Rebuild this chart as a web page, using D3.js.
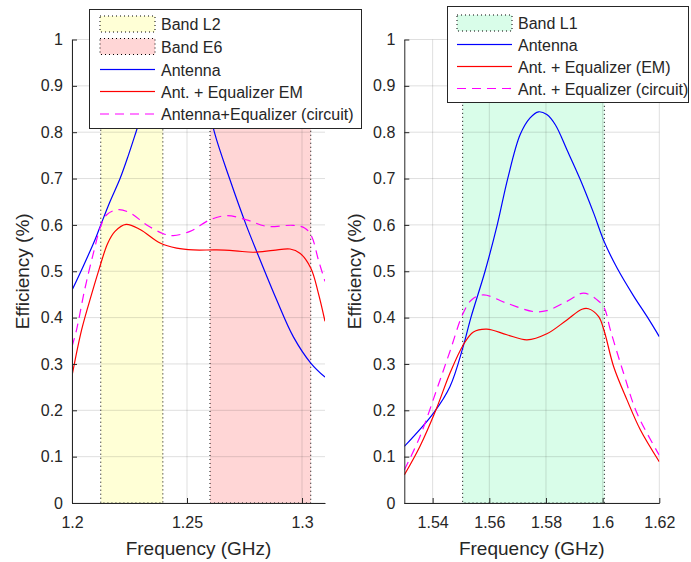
<!DOCTYPE html>
<html>
<head>
<meta charset="utf-8">
<script src="https://cdn.jsdelivr.net/npm/d3@7"></script>
<style>
  html, body { margin: 0; padding: 0; background: #fff; }
  svg { display: block; }
  text { font-family: "Liberation Sans", Arial, Helvetica, sans-serif; fill: #262626; }
</style>
</head>
<body>
<svg id="chart" width="691" height="562"></svg>
<script>
// ---------- DATA ----------
const yTicks = [0, 0.1, 0.2, 0.3, 0.4, 0.5, 0.6, 0.7, 0.8, 0.9, 1];
const yTickLabels = ["0", "0.1", "0.2", "0.3", "0.4", "0.5", "0.6", "0.7", "0.8", "0.9", "1"];

// Left panel (L2 / E6)
const leftXDomain = [1.2, 1.31];
const leftXTicks = [1.2, 1.25, 1.3];
const leftXTickLabels = ["1.2", "1.25", "1.3"];
const bandL2 = [1.2125, 1.2395];
const bandE6 = [1.26, 1.3038];

const leftAntFreq = [1.200, 1.205, 1.210, 1.2125, 1.2165, 1.2209, 1.2245, 1.2278, 1.231, 1.235, 1.240, 1.245, 1.250, 1.254, 1.258, 1.2619, 1.2685, 1.2757, 1.2806, 1.289, 1.2962, 1.3038, 1.310];
const leftAntEff  = [0.459, 0.512, 0.568, 0.600, 0.650, 0.700, 0.750, 0.800, 0.850, 0.910, 0.970, 1.010, 1.020, 0.980, 0.890, 0.800, 0.700, 0.600, 0.539, 0.438, 0.359, 0.302, 0.2715];

const leftEmFreq = [1.200, 1.2042, 1.2085, 1.2117, 1.2155, 1.2187, 1.2235, 1.2296, 1.2383, 1.2455, 1.2527, 1.2629, 1.2710, 1.2788, 1.2875, 1.2948, 1.2991, 1.3038, 1.3071, 1.310];
const leftEmEff  = [0.274, 0.374, 0.450, 0.503, 0.560, 0.586, 0.601, 0.590, 0.561, 0.550, 0.546, 0.546, 0.544, 0.541, 0.545, 0.548, 0.539, 0.507, 0.453, 0.392];

const leftCircFreq = [1.200, 1.202, 1.2055, 1.2093, 1.2125, 1.2151, 1.2201, 1.2252, 1.2325, 1.2397, 1.244, 1.2513, 1.260, 1.2673, 1.2759, 1.2846, 1.2962, 1.3013, 1.3042, 1.3071, 1.310];
const leftCircEff  = [0.337, 0.374, 0.460, 0.539, 0.597, 0.622, 0.633, 0.626, 0.600, 0.581, 0.577, 0.586, 0.611, 0.620, 0.611, 0.597, 0.599, 0.593, 0.575, 0.525, 0.478];

// Right panel (L1)
const rightXDomain = [1.53, 1.62];
const rightXTicks = [1.54, 1.56, 1.58, 1.60, 1.62];
const rightXTickLabels = ["1.54", "1.56", "1.58", "1.6", "1.62"];
const bandL1 = [1.5506, 1.6006];

const rightAntFreq = [1.530, 1.5403, 1.5461, 1.5508, 1.5535, 1.5585, 1.5628, 1.5665, 1.5709, 1.5744, 1.5774, 1.5803, 1.5833, 1.5874, 1.5921, 1.5968, 1.6006, 1.6051, 1.6109, 1.6157, 1.620];
const rightAntEff  = [0.122, 0.194, 0.251, 0.338, 0.400, 0.500, 0.600, 0.700, 0.795, 0.831, 0.844, 0.838, 0.816, 0.762, 0.698, 0.626, 0.563, 0.507, 0.447, 0.402, 0.359];

const rightEmFreq = [1.530, 1.5355, 1.5414, 1.5461, 1.5508, 1.5544, 1.5591, 1.5662, 1.5733, 1.5803, 1.5874, 1.5927, 1.595, 1.5986, 1.6006, 1.6039, 1.6086, 1.6133, 1.620];
const rightEmEff  = [0.0605, 0.122, 0.2045, 0.280, 0.341, 0.369, 0.375, 0.363, 0.352, 0.365, 0.395, 0.418, 0.419, 0.402, 0.370, 0.294, 0.2225, 0.158, 0.089];

const rightCircFreq = [1.530, 1.5355, 1.5414, 1.5461, 1.5508, 1.5538, 1.5579, 1.5662, 1.5756, 1.5803, 1.5874, 1.5933, 1.598, 1.6006, 1.6027, 1.6074, 1.6121, 1.620];
const rightCircEff  = [0.071, 0.143, 0.244, 0.327, 0.410, 0.4385, 0.449, 0.431, 0.413, 0.415, 0.435, 0.453, 0.4385, 0.4205, 0.374, 0.280, 0.194, 0.103];

const leftLegendLabels = ["Band L2", "Band E6", "Antenna", "Ant. + Equalizer EM", "Antenna+Equalizer (circuit)"];
const rightLegendLabels = ["Band L1", "Antenna", "Ant. + Equalizer (EM)", "Ant. + Equalizer (circuit)"];

// ---------- STYLE ----------
const COL_AXIS = "#262626";
const COL_GRID = "rgba(38,38,38,0.15)";
const COL_BLUE = "#0000ff";
const COL_RED = "#ff0000";
const COL_MAG = "#ff00ff";
const FILL_YEL = "#ffffd6";
const FILL_PINK = "#ffd6d6";
const FILL_GREEN = "#d9fde9";
const DASH = "9,6";

const svg = d3.select("#chart");
const yTop = 39.5, yBot = 503;
const y = d3.scaleLinear().domain([0, 1]).range([yBot, yTop]);

function panel(id, x0, x1, xDomain, xTicks, xTickLabels, bands, series, ylabelX) {
  const x = d3.scaleLinear().domain(xDomain).range([x0, x1]);
  const g = svg.append("g");
  const clipId = "clip-" + id;
  svg.append("defs").append("clipPath").attr("id", clipId)
    .append("rect").attr("x", x0).attr("y", yTop).attr("width", x1 - x0).attr("height", yBot - yTop);

  bands.forEach(b => {
    g.append("rect")
      .attr("x", x(b.range[0])).attr("y", y(1))
      .attr("width", x(b.range[1]) - x(b.range[0])).attr("height", y(0) - y(1))
      .attr("fill", b.fill).attr("stroke", "#000").attr("stroke-width", 1)
      .attr("stroke-dasharray", "1,3");
  });

  g.append("g").selectAll("line").data(xTicks).join("line")
    .attr("x1", d => x(d)).attr("x2", d => x(d)).attr("y1", yTop).attr("y2", yBot)
    .attr("stroke", COL_GRID).attr("stroke-width", 1);
  g.append("g").selectAll("line").data(yTicks).join("line")
    .attr("x1", x0).attr("x2", x1).attr("y1", d => y(d)).attr("y2", d => y(d))
    .attr("stroke", COL_GRID).attr("stroke-width", 1);

  const lines = g.append("g").attr("clip-path", `url(#${clipId})`);
  series.forEach(s => {
    const pts = s.f.map((f, i) => [f, s.v[i]]);
    lines.append("path")
      .attr("d", d3.line().x(d => x(d[0])).y(d => y(d[1])).curve(d3.curveCatmullRom.alpha(0.5))(pts))
      .attr("fill", "none").attr("stroke", s.color).attr("stroke-width", 1.2)
      .attr("stroke-dasharray", s.dash || null);
  });

  const ya = g.append("g").attr("transform", `translate(${x0},0)`)
    .call(d3.axisLeft(y).tickValues(yTicks).tickFormat((d, i) => yTickLabels[i])
      .tickSizeInner(-5).tickSizeOuter(0).tickPadding(9));
  const xa = g.append("g").attr("transform", `translate(0,${yBot})`)
    .call(d3.axisBottom(x).tickValues(xTicks).tickFormat((d, i) => xTickLabels[i])
      .tickSizeInner(-5).tickSizeOuter(0).tickPadding(14));
  [ya, xa].forEach(a => {
    a.select(".domain").attr("stroke", COL_AXIS);
    a.selectAll(".tick line").attr("stroke", COL_AXIS);
    a.selectAll(".tick text").attr("fill", COL_AXIS).style("font-size", "16px")
      .style("font-family", '"Liberation Sans", Arial, sans-serif');
  });

  g.append("text").attr("x", (x0 + x1) / 2).attr("y", 555).attr("text-anchor", "middle")
    .style("font-size", "19px").text("Frequency (GHz)");
  g.append("text").attr("transform", `translate(${ylabelX},${(yTop + yBot) / 2}) rotate(-90)`)
    .attr("text-anchor", "middle").style("font-size", "19px").text("Efficiency (%)");
  return g;
}

function legend(bx, by, bw, bh, rows, symX0, symX1, entries) {
  const g = svg.append("g");
  g.append("rect").attr("x", bx).attr("y", by).attr("width", bw).attr("height", bh)
    .attr("fill", "#fff").attr("stroke", COL_AXIS).attr("stroke-width", 1);
  entries.forEach((e, i) => {
    const cy = rows[i];
    if (e.type === "patch") {
      g.append("rect").attr("x", symX0).attr("y", cy - 8).attr("width", symX1 - symX0).attr("height", 16)
        .attr("fill", e.fill).attr("stroke", "#000").attr("stroke-dasharray", "1,3");
    } else if (!e.dash) {
      g.append("rect").attr("x", symX0).attr("y", cy - 0.6).attr("width", symX1 - symX0).attr("height", 1.2)
        .attr("fill", e.color).attr("stroke", "none");
    } else {
      g.append("path").attr("d", `M${symX0},${cy}H${symX1}`)
        .attr("fill", "none")
        .style("stroke", e.color).style("stroke-width", "1.2px")
        .style("stroke-dasharray", e.dash);
    }
    g.append("text").attr("x", symX1 + 6).attr("y", cy + 6).style("font-size", "16px").text(e.label);
  });
}

panel("L", 72, 325, leftXDomain, leftXTicks, leftXTickLabels,
  [{ range: bandL2, fill: FILL_YEL }, { range: bandE6, fill: FILL_PINK }],
  [{ f: leftAntFreq, v: leftAntEff, color: COL_BLUE },
   { f: leftEmFreq, v: leftEmEff, color: COL_RED },
   { f: leftCircFreq, v: leftCircEff, color: COL_MAG, dash: DASH }], 29);

panel("R", 404.3, 659.3, rightXDomain, rightXTicks, rightXTickLabels,
  [{ range: bandL1, fill: FILL_GREEN }],
  [{ f: rightAntFreq, v: rightAntEff, color: COL_BLUE },
   { f: rightEmFreq, v: rightEmEff, color: COL_RED },
   { f: rightCircFreq, v: rightCircEff, color: COL_MAG, dash: DASH }], 361);

legend(89.5, 9.5, 272, 119, [24, 46.5, 69.5, 91.5, 114], 100, 155, [
  { type: "patch", fill: FILL_YEL, label: leftLegendLabels[0] },
  { type: "patch", fill: FILL_PINK, label: leftLegendLabels[1] },
  { type: "line", color: COL_BLUE, label: leftLegendLabels[2] },
  { type: "line", color: COL_RED, label: leftLegendLabels[3] },
  { type: "line", color: COL_MAG, dash: DASH, label: leftLegendLabels[4] }
]);

legend(447.5, 6.5, 241, 96, [23, 44.5, 66.5, 88.5], 457, 512, [
  { type: "patch", fill: FILL_GREEN, label: rightLegendLabels[0] },
  { type: "line", color: COL_BLUE, label: rightLegendLabels[1] },
  { type: "line", color: COL_RED, label: rightLegendLabels[2] },
  { type: "line", color: COL_MAG, dash: DASH, label: rightLegendLabels[3] }
]);
</script>
</body>
</html>
